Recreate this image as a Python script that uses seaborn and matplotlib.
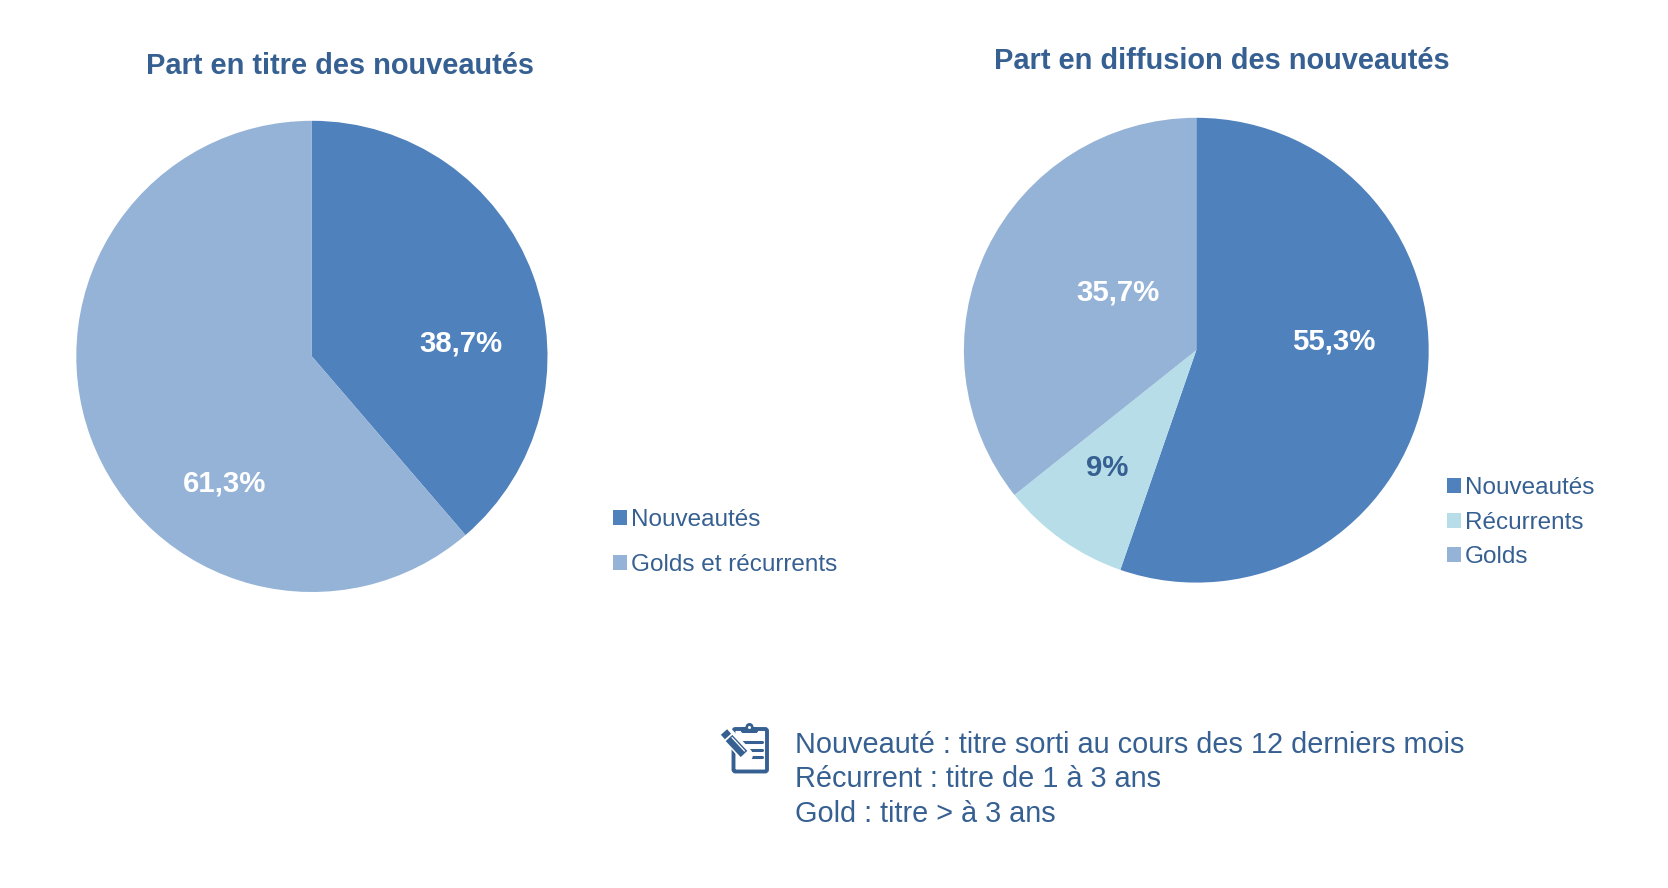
import matplotlib
matplotlib.use("Agg")
import matplotlib.pyplot as plt
from matplotlib.patches import FancyBboxPatch, Circle, Patch
from matplotlib.transforms import Affine2D
import seaborn as sns

# Données
titre_labels = ['Nouveautés', 'Golds et récurrents']
titre_parts = [38.7, 61.3]
diffusion_labels = ['Nouveautés', 'Récurrents', 'Golds']
diffusion_parts = [55.3, 9, 35.7]
notes = ['Nouveauté : titre sorti au cours des 12 derniers mois',
         'Récurrent : titre de 1 à 3 ans',
         'Gold : titre > à 3 ans']

BLEU = '#4F81BD'
BLEU_CLAIR = '#95B3D7'
TURQUOISE = '#B7DEE8'
TEXTE = '#376092'

sns.set_theme(style='white')
plt.rcParams['font.family'] = ['Liberation Sans', 'DejaVu Sans']

W, H = 1668, 888
fig = plt.figure(figsize=(W / 100, H / 100), dpi=100, facecolor='white')
# coordonnées en pixels, origine en haut à gauche
px = Affine2D().scale(1, -1).translate(0, H)


def camembert(cx, cy, r, valeurs, couleurs):
    ax = fig.add_axes([(cx - r) / W, 1 - (cy + r) / H, 2 * r / W, 2 * r / H])
    ax.pie(valeurs, colors=couleurs, startangle=90, counterclock=False, radius=1,
           wedgeprops={'linewidth': 0, 'edgecolor': 'none'})
    ax.set_xlim(-1, 1)
    ax.set_ylim(-1, 1)
    ax.axis('off')
    return ax


def pct(v):
    return f"{v:g}".replace('.', ',') + '%'


def legende(labels, couleurs, x, y, espace):
    handles = [Patch(facecolor=c, edgecolor='none', linewidth=0) for c in couleurs]
    leg = fig.legend(handles, labels, loc='upper left', bbox_to_anchor=(x / W, 1 - y / H),
                     frameon=False, prop={'size': 17.45}, labelcolor=TEXTE, handlelength=0.58,
                     handleheight=0.58, handletextpad=0.17, labelspacing=espace,
                     borderpad=0, borderaxespad=0)
    return leg


couleurs_titre = [BLEU, BLEU_CLAIR]
couleurs_diff = [BLEU, TURQUOISE, BLEU_CLAIR]

camembert(311.9, 356.4, 235.6, titre_parts, couleurs_titre)
camembert(1196.3, 350.2, 232.4, diffusion_parts, couleurs_diff)

# Titres
fig.text(340, 66, 'Part en titre des nouveautés', transform=px, ha='center', va='center',
         fontsize=20.85, fontweight='bold', color=TEXTE)
fig.text(1222, 61, 'Part en diffusion des nouveautés', transform=px, ha='center', va='center',
         fontsize=20.85, fontweight='bold', color=TEXTE)

# Pourcentages
for v, x, y, c in [(titre_parts[0], 461, 343, 'white'), (titre_parts[1], 225, 483, 'white'),
                   (diffusion_parts[0], 1334, 341.5, 'white'), (diffusion_parts[1], 1107, 468, TEXTE),
                   (diffusion_parts[2], 1118, 292, 'white')]:
    fig.text(x, y, pct(v), transform=px, ha='center', va='center', fontsize=21.2,
             fontweight='bold', color=c)

legende(titre_labels, couleurs_titre, 613, 509, 0.95)
legende(diffusion_labels, couleurs_diff, 1447, 477, 0.52)

# Notes
for ligne, y in zip(notes, [745, 779, 814]):
    fig.text(795, y, ligne, transform=px, ha='left', va='center', fontsize=20.82, color=TEXTE)

# Icône bloc-notes
fig.add_artist(FancyBboxPatch((733.5, 729), 33.5, 42.5, boxstyle='round,pad=0,rounding_size=2',
                              transform=px, fc='white', ec=TEXTE, lw=2.8))
fig.add_artist(FancyBboxPatch((741, 727), 17, 6, boxstyle='round,pad=0,rounding_size=2',
                              transform=px, fc=TEXTE, ec=TEXTE, lw=0))
fig.add_artist(Circle((749.5, 727), 4, transform=px, fc=TEXTE, ec='none'))
fig.add_artist(Circle((749.5, 727.5), 1.5, transform=px, fc='white', ec='none'))
for x0, x1, y in [(742, 762, 742), (746, 762, 750), (752, 762, 757)]:
    fig.add_artist(plt.Line2D([x0, x1], [y, y], transform=px, color=TEXTE, lw=2.2))
fig.add_artist(plt.Line2D([725, 746], [732, 755], transform=px, color='white', lw=10))
fig.add_artist(plt.Line2D([724, 728], [732, 736.5], transform=px, color=TEXTE, lw=6,
                          solid_capstyle='butt'))
fig.add_artist(plt.Line2D([729, 744], [738, 754], transform=px, color=TEXTE, lw=6.5,
                          solid_capstyle='butt'))
fig.add_artist(plt.Line2D([732, 744.5], [737.5, 751], transform=px, color='white', lw=0.9))
fig.add_artist(plt.Polygon([[741, 757], [747, 750], [750, 758.5]], transform=px, fc=TEXTE, ec='none'))

fig.savefig('out.png', dpi=100, facecolor='white')
